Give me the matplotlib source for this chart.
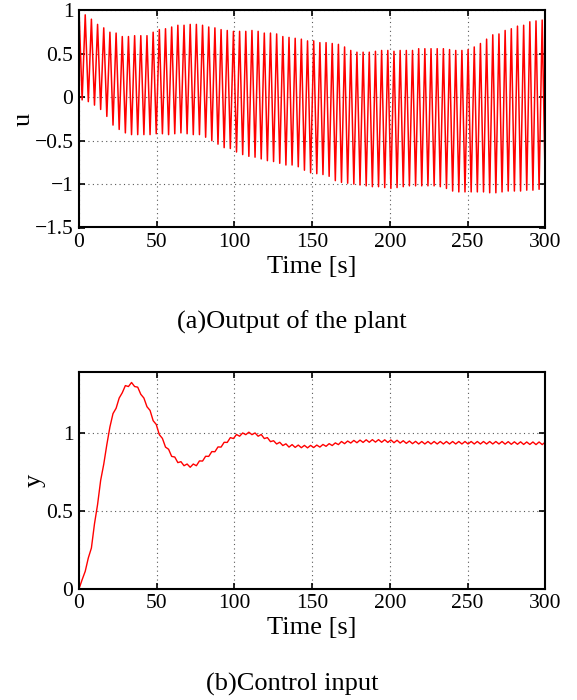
import numpy as np
import matplotlib
matplotlib.use("Agg")
import matplotlib.pyplot as plt

# (a) plant output: peak and trough of every cycle
U_PEAKS = [1.0, 0.95, 0.9, 0.84, 0.80, 0.75, 0.74, 0.70, 0.70, 0.71, 0.71, 0.71,
           0.75, 0.78, 0.79, 0.81, 0.83, 0.83, 0.84, 0.84, 0.83, 0.81, 0.80, 0.78,
           0.77, 0.76, 0.76, 0.76, 0.77, 0.76, 0.74, 0.74, 0.73,
           0.70, 0.69, 0.68, 0.67, 0.65, 0.65, 0.63, 0.63, 0.62, 0.61, 0.58, 0.54,
           0.52, 0.52, 0.52, 0.53, 0.54, 0.54, 0.53, 0.54, 0.54, 0.54, 0.56, 0.56,
           0.56, 0.56, 0.56, 0.55, 0.54, 0.54, 0.55, 0.58, 0.62, 0.67, 0.72, 0.73,
           0.77, 0.79, 0.82, 0.83, 0.87, 0.88, 0.89]
U_TROUGHS = [-0.03, -0.05, -0.09, -0.14, -0.22, -0.32, -0.37, -0.41, -0.43, -0.43,
             -0.43, -0.43, -0.42, -0.42, -0.43, -0.42, -0.41, -0.42, -0.43, -0.43,
             -0.46, -0.50, -0.54, -0.58, -0.59, -0.63, -0.66, -0.68, -0.69, -0.71,
             -0.73, -0.74, -0.76,
             -0.78, -0.78, -0.80, -0.84, -0.87, -0.88, -0.89, -0.91, -0.96, -0.98,
             -0.99, -1.0, -1.01, -1.02, -1.03, -1.03, -1.04, -1.05, -1.04, -1.03,
             -1.02, -1.02, -1.02, -1.02, -1.02, -1.03, -1.05, -1.08, -1.09, -1.09,
             -1.09, -1.09, -1.09, -1.10, -1.10, -1.09, -1.08, -1.08, -1.08, -1.07,
             -1.07, -1.06, -1.04]

# (b) control input, one value per half cycle
Y_VALUES = [0.0, 0.058, 0.112, 0.198, 0.262, 0.418, 0.542, 0.698, 0.802, 0.928,
            1.042, 1.128, 1.162, 1.228, 1.262, 1.308, 1.302, 1.328, 1.302, 1.298,
            1.252, 1.228, 1.172, 1.148, 1.082, 1.058, 0.992, 0.968, 0.912, 0.898,
            0.852, 0.848, 0.812, 0.818, 0.792, 0.803, 0.782, 0.803, 0.792, 0.823,
            0.822, 0.853, 0.852, 0.883, 0.882, 0.913, 0.912, 0.943, 0.942, 0.973,
            0.967, 0.993, 0.982, 1.003, 0.992, 1.008, 0.992, 1.003, 0.982, 0.993,
            0.967, 0.973, 0.947, 0.953, 0.932, 0.943, 0.922, 0.933, 0.912, 0.928,
            0.910, 0.925, 0.908, 0.923, 0.907, 0.923, 0.909, 0.925, 0.912, 0.929,
            0.917, 0.934, 0.922, 0.939, 0.928, 0.948, 0.934, 0.951, 0.938, 0.955,
            0.940, 0.957, 0.942, 0.959, 0.943, 0.960, 0.944, 0.960, 0.943, 0.959,
            0.942, 0.958, 0.940, 0.956, 0.938, 0.953, 0.936, 0.951, 0.934, 0.949,
            0.932, 0.948, 0.932, 0.948, 0.932, 0.948, 0.932, 0.948, 0.932, 0.948,
            0.932, 0.948, 0.932, 0.948, 0.932, 0.948, 0.932, 0.948, 0.932, 0.948,
            0.932, 0.948, 0.932, 0.948, 0.932, 0.948, 0.932, 0.948, 0.931, 0.947,
            0.930, 0.946, 0.930, 0.946, 0.929, 0.945, 0.929, 0.945, 0.928, 0.945,
            0.928, 0.944]

T_END = 300

plt.rcParams['font.family'] = ['Liberation Serif', 'DejaVu Serif']


def style_axes(ax):
    ax.tick_params(direction='in', top=True, right=True, labelsize=15.5,
                   length=4, width=1.2, pad=4)
    for s in ax.spines.values():
        s.set_linewidth(1.5)
    ax.grid(True, linestyle=(0, (1, 3)), color='0.35', linewidth=0.8)
    ax.set_xlim(0, T_END)
    ax.set_xticks([0, 50, 100, 150, 200, 250, 300])
    ax.set_xlabel('Time [s]', fontsize=19, labelpad=3)


fig = plt.figure(figsize=(5.77, 7.0), dpi=100)

# top panel
ax1 = fig.add_axes([0.137, 0.675, 0.808, 0.310])
u = np.empty(len(U_PEAKS) + len(U_TROUGHS))
u[0::2] = U_PEAKS
u[1::2] = U_TROUGHS
t_u = np.linspace(0, T_END, len(u))
ax1.plot(t_u, u, color='red', linewidth=1.1)
ax1.set_ylim(-1.5, 1)
ax1.set_yticks([-1.5, -1, -0.5, 0, 0.5, 1])
ax1.set_yticklabels(['\u22121.5', '\u22121', '\u22120.5', '0', '0.5', '1'])
ax1.set_ylabel('u', fontsize=19, labelpad=0)
style_axes(ax1)
fig.text(0.506, 0.540, '(a)Output of the plant', ha='center', va='center', fontsize=19)

# bottom panel
ax2 = fig.add_axes([0.137, 0.159, 0.808, 0.309])
t_y = np.linspace(0, T_END, len(Y_VALUES))
ax2.plot(t_y, Y_VALUES, color='red', linewidth=1.0)
ax2.set_ylim(0, 1.393)
ax2.set_yticks([0, 0.5, 1])
ax2.set_yticklabels(['0', '0.5', '1'])
ax2.set_ylabel('y', fontsize=19, labelpad=1)
style_axes(ax2)
fig.text(0.506, 0.022, '(b)Control input', ha='center', va='center', fontsize=19)

fig.savefig('out.png', dpi=100)
